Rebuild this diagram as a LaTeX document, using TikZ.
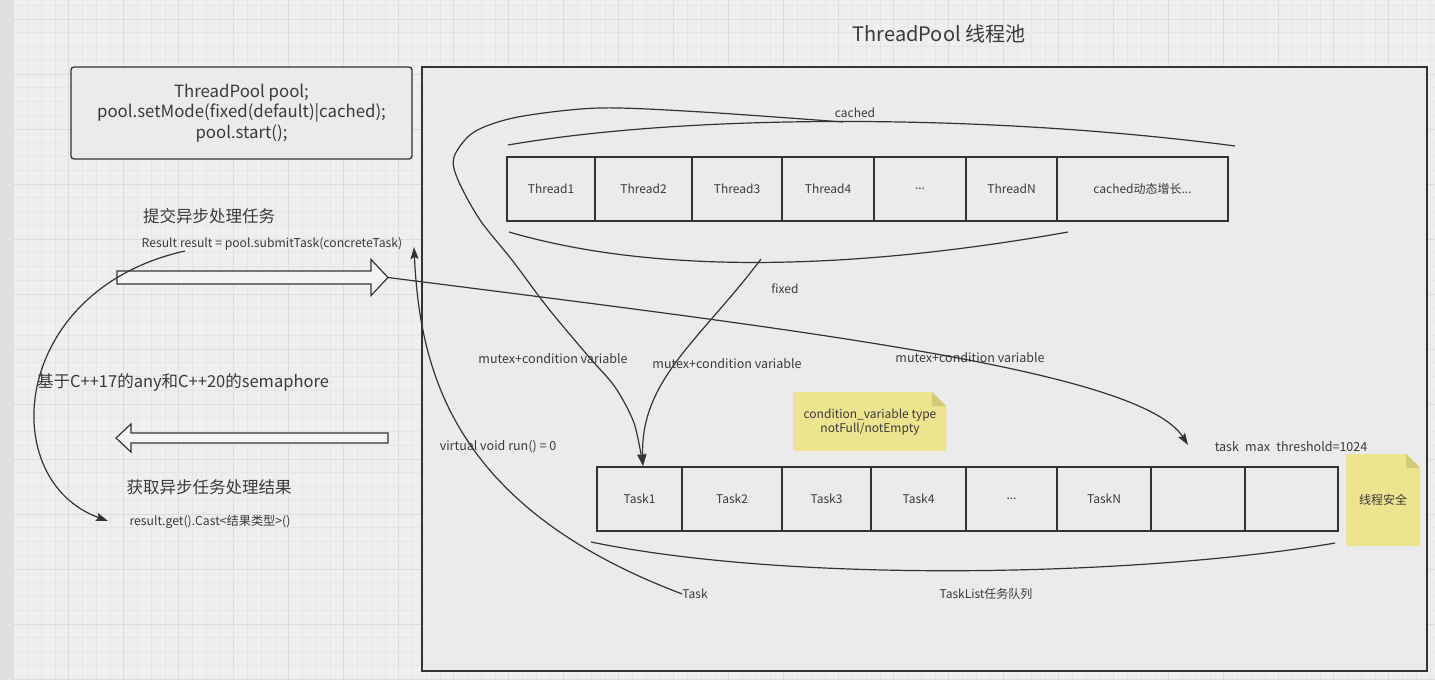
\documentclass[tikz,border=0pt]{standalone}
\usepackage{fontspec}
\setmainfont{Noto Sans CJK SC}
\usetikzlibrary{arrows.meta}
\definecolor{bgc}{HTML}{EFEFEF}
\definecolor{gmin}{HTML}{E5E5E5}
\definecolor{gmaj}{HTML}{DCDCDC}
\definecolor{strip}{HTML}{E0E0E0}
\definecolor{poolfill}{HTML}{EBEBEB}
\definecolor{ln}{HTML}{333333}
\definecolor{txt}{HTML}{3A3A3A}
\definecolor{notey}{HTML}{EDE48F}
\definecolor{notefold}{HTML}{D3CA7A}
\definecolor{harrow}{HTML}{F4F4F4}
\begin{document}
\begin{tikzpicture}[x=1pt,y=-1pt,
  every node/.style={text=txt,inner sep=0pt},
  f12/.style={font=\fontsize{12}{14.5}\selectfont},
  f125/.style={font=\fontsize{12.5}{15}\selectfont},
  f11/.style={font=\fontsize{12.2}{14}\selectfont},
  f16/.style={font=\fontsize{16.5}{20}\selectfont},
  cell/.style={draw=ln,line width=1.3pt,minimum height=64pt,f12},
  curve/.style={draw=ln,line width=1.2pt},
  tip/.style={-{Stealth[length=12pt,width=8pt,inset=2pt]}},
  hollow/.style={draw=ln,line width=1.2pt,fill=harrow},
  notebody/.style={fill=notey},
  notecorner/.style={fill=notefold},
]
\useasboundingbox (0,0) rectangle (1435,680);
% background and grid
\fill[bgc] (0,0) rectangle (1435,680);
\foreach \k in {1,...,104}{
  \pgfmathtruncatemacro\m{mod(\k,4)}
  \ifnum\m=1
    \draw[gmaj,line width=0.9pt] (13.75*\k,0) -- (13.75*\k,680);
  \else
    \draw[gmin,line width=0.6pt] (13.75*\k,0) -- (13.75*\k,680);
  \fi
}
\foreach \k in {0,...,49}{
  \pgfmathtruncatemacro\m{mod(\k,4)}
  \ifnum\m=1
    \draw[gmaj,line width=0.9pt] (14,5.25+13.75*\k) -- (1435,5.25+13.75*\k);
  \else
    \draw[gmin,line width=0.6pt] (14,5.25+13.75*\k) -- (1435,5.25+13.75*\k);
  \fi
}
\fill[strip] (0,0) rectangle (14,680);

% title
\node[font=\fontsize{20}{24}\selectfont] (title) at (939,34) {ThreadPool 线程池};

% left code box
\node[draw=ln,line width=1.3pt,rounded corners=3pt,fill=poolfill,
      minimum width=341pt,minimum height=92pt,align=center,
      font=\fontsize{16.8}{20.5}\selectfont] (code) at (241.5,113)
  {ThreadPool pool;\\pool.setMode(fixed(default)|cached);\\pool.start();};

% container
\node[draw=ln,line width=1.5pt,fill=poolfill,minimum width=1005pt,minimum height=604pt] (pool) at (924.5,369) {};

% thread row
\node[cell,minimum width=88pt] (th1) at (551,189) {Thread1};
\node[cell,minimum width=97pt] (th2) at (643.5,189) {Thread2};
\node[cell,minimum width=90pt] (th3) at (737,189) {Thread3};
\node[cell,minimum width=92pt] (th4) at (828,189) {Thread4};
\node[cell,minimum width=92pt] (th5) at (920,189) {...};
\node[cell,minimum width=91pt] (thn) at (1011.5,189) {ThreadN};
\node[cell,minimum width=171pt] (thc) at (1142.5,189) {cached动态增长...};

% task row
\node[cell,minimum width=85pt] (tk1) at (639.5,499) {Task1};
\node[cell,minimum width=100pt] (tk2) at (732,499) {Task2};
\node[cell,minimum width=89pt] (tk3) at (826.5,499) {Task3};
\node[cell,minimum width=95pt] (tk4) at (918.5,499) {Task4};
\node[cell,minimum width=91pt] (tk5) at (1011.5,499) {...};
\node[cell,minimum width=94pt] (tkn) at (1104,499) {TaskN};
\node[cell,minimum width=94pt] (tk7) at (1198,499) {};
\node[cell,minimum width=93pt] (tk8) at (1291.5,499) {};

% braces
\draw[curve] (508,145) .. controls (700,112) and (1000,115) .. (1235,146);
\draw[curve] (509,232) .. controls (680,282) and (900,262) .. (1068,232);
\draw[curve] (591,542) .. controls (800,585) and (1150,575) .. (1335,543);
\coordinate (cpeak) at (843,122);
\coordinate (fx) at (761,259);

% notes
\fill[notebody] (793,392) -- (932,392) -- (946,406) -- (946,451) -- (793,451) -- cycle;
\fill[notecorner] (932,392) -- (946,406) -- (932,406) -- cycle;
\node[f12,align=center] (note1) at (870,422) {condition\_variable type\\notFull/notEmpty};
\fill[notebody] (1346,454) -- (1406,454) -- (1420,468) -- (1420,546) -- (1346,546) -- cycle;
\fill[notecorner] (1406,454) -- (1420,468) -- (1406,468) -- cycle;
\node[f12] (note2) at (1383,500) {线程安全};

% labels
\node[f12] (cachedl) at (855,113) {cached};
\node[f12] (fixedl) at (785,289) {fixed};
\node[f125] (mc1) at (553,359) {mutex+condition variable};
\node[f125] (mc2) at (727,364) {mutex+condition variable};
\node[f125] (mc3) at (970,358) {mutex+condition variable};
\node[f125] (runl) at (498,447) {virtual void run() = 0};
\node[f125] (maxl) at (1291,447) {task\enspace max\enspace threshold=1024};
\node[f12] (taskl) at (695,594) {Task};
\node[f12] (tlist) at (986,594) {TaskList任务队列};

% left side texts
\node[f16] (submit) at (209,216) {提交异步处理任务};
\node[f11] (rescode) at (272,244) {Result result = pool.submitTask(concreteTask)};
\node[f16] (based) at (183,382) {基于C++17的any和C++20的semaphore};
\node[f16] (getres) at (209,487) {获取异步任务处理结果};
\node[f11] (getcode) at (210,522) {result.get().Cast<结果类型>()};

% hollow arrows
\draw[hollow] (117,271) -- (371,271) -- (371,259.5) -- (388,277.5) -- (371,295.5) -- (371,284) -- (117,284) -- cycle;
\coordinate (subtip) at (388,277.5);
\draw[hollow] (388,433) -- (131,433) -- (131,424) -- (116,438) -- (131,452) -- (131,443) -- (388,443) -- cycle;

% free ends
\coordinate (rs) at (185,251);
\coordinate (rg) at (108,521);
\coordinate (runup) at (414,247);
\coordinate (qend) at (1188,445);
\coordinate (t1top) at (643,466);

% connectors
\draw[curve,tip] (rs) .. controls (10,290) and (-5,480) .. (rg);
\draw[curve,tip] (subtip) .. controls (800,330) and (1140,370) .. (qend);
\draw[curve,tip] (taskl.west) .. controls (460,510) and (420,380) .. (runup);
\draw[curve,tip] (fx) .. controls (700,340) and (640,380) .. (t1top);
\draw[curve,tip] plot[smooth,tension=0.5] coordinates {(cpeak) (702,112) (599,108) (518,117) (474,132) (454,157) (458,180) (480,220) (512,260) (548,308) (589,357) (615,387) (634,423) (t1top)};
\end{tikzpicture}
\end{document}
